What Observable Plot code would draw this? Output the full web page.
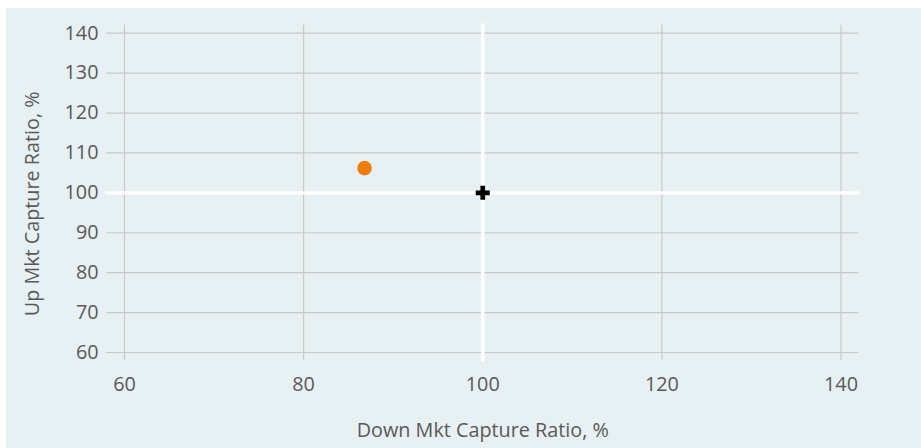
<!DOCTYPE html>
<html>
<head>
<meta charset="utf-8">
<script src="https://cdn.jsdelivr.net/npm/d3@7"></script>
<script src="https://cdn.jsdelivr.net/npm/@observablehq/plot@0.6"></script>
<style>
  html, body { margin: 0; padding: 0; background: #ffffff; }
  #panel {
    position: absolute; left: 6px; top: 8px;
    width: 915px; height: 440px;
    background: #e7f0f2;
  }
  #panel svg { display: block; }
</style>
</head>
<body>
<div id="panel"></div>
<script>
// Capture ratios (%) of the fund versus the benchmark
const fundName = ["Fund"];
const downCapture = [86.8];
const upCapture = [106.2];
const benchName = ["Benchmark"];
const benchDown = [100];
const benchUp = [100];

const ticks = [60, 70, 80, 90, 100, 110, 120, 130, 140];
const xTicks = [60, 80, 100, 120, 140];
const gridSpan = [58, 142];
const reference = [100];

const xTitle = "Down Mkt Capture Ratio, %";
const yTitle = "Up Mkt Capture Ratio, %";

const fund = fundName.map((name, i) => ({name, down: downCapture[i], up: upCapture[i]}));
const bench = benchName.map((name, i) => ({name, down: benchDown[i], up: benchUp[i]}));

const font = "'Open Sans', sans-serif";
const textColor = "#595959";
const gridColor = "#c8c8c8";
const fs = 19.8;

const chart = Plot.plot({
  width: 915,
  height: 440,
  marginLeft: 118,
  marginRight: 80.5,
  marginTop: 24.7,
  marginBottom: 96,
  style: {background: "transparent", fontFamily: font, fontSize: fs + "px", color: textColor},
  x: {domain: [60, 140]},
  y: {domain: [60, 140]},
  marks: [
    // gridlines reach a little past the outer ticks
    Plot.ruleY(ticks, {y: d => d, x1: gridSpan[0], x2: gridSpan[1], stroke: gridColor, strokeWidth: 1.2}),
    Plot.ruleX(xTicks, {x: d => d, y1: gridSpan[0], y2: gridSpan[1], stroke: gridColor, strokeWidth: 1.2}),
    // benchmark crosshair
    Plot.ruleY(reference, {y: d => d, x1: gridSpan[0], x2: gridSpan[1], stroke: "#ffffff", strokeWidth: 3.4, strokeLinecap: "round"}),
    Plot.ruleX(reference, {x: d => d, y1: gridSpan[0], y2: gridSpan[1], stroke: "#ffffff", strokeWidth: 3.4, strokeLinecap: "round"}),
    Plot.axisY(ticks, {tickSize: 0, tickPadding: 26, label: null, fill: textColor, fontSize: fs}),
    Plot.axisX(xTicks, {tickSize: 0, tickPadding: 24, label: null, fill: textColor, fontSize: fs}),
    Plot.dot(fund, {x: "down", y: "up", r: 7.3, fill: "#ef7d0a"}),
    Plot.dot(bench, {x: "down", y: "up", symbol: "cross", r: 5.9, fill: "#000000"}),
    Plot.text([xTitle], {text: d => d, frameAnchor: "bottom", textAnchor: "middle", dy: 78.6, lineAnchor: "middle", fill: textColor, fontSize: fs}),
    Plot.text([yTitle], {text: d => d, frameAnchor: "left", textAnchor: "middle", rotate: -90, dx: -92, dy: 11, lineAnchor: "middle", fill: textColor, fontSize: fs})
  ]
});

document.getElementById("panel").appendChild(chart);
</script>
</body>
</html>
